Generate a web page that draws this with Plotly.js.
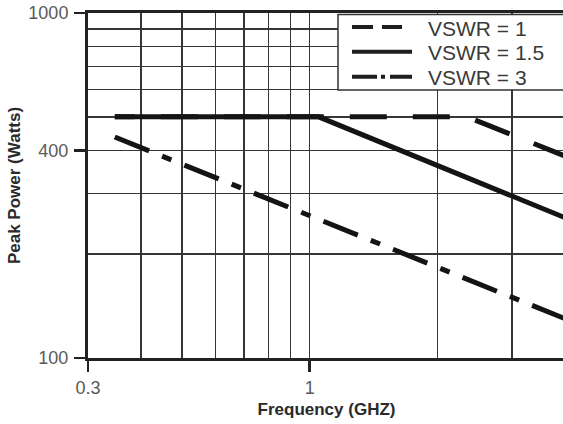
<!DOCTYPE html>
<html>
<head>
<meta charset="utf-8">
<script src="https://cdn.plot.ly/plotly-3.0.1.min.js"></script>
<style>
html, body { margin:0; padding:0; overflow:hidden; background:#fff; }
#chart { width:566px; height:424px; }
</style>
</head>
<body>
<div id="chart"></div>
<script>
// ---- data ----
var seriesNames = ['VSWR = 1', 'VSWR = 1.5', 'VSWR = 3'];
var freqVswr1  = [0.347, 2.35, 4];
var powerVswr1 = [500, 500, 385];
var freqVswr15  = [0.347, 1.05, 4];
var powerVswr15 = [500, 500, 255];
var freqVswr3  = [0.347, 4];
var powerVswr3 = [437, 130];

var xTickVals = [0.3, 1, 4];
var xTickText = ['0.3', '1', '4'];
var xMinorVals = [0.4, 0.5, 0.6, 0.7, 0.8, 0.9, 2, 3];
var yTickVals = [100, 400, 1000];
var yTickText = ['100', '400', '1000'];
var yMinorVals = [200, 300, 500, 600, 700, 800, 900];

var INK = '#141414';
var GRID = '#363636';
var FONT = 'Liberation Sans, Arial, sans-serif';

var traces = [
  { x: freqVswr1, y: powerVswr1, name: seriesNames[0], mode: 'lines',
    line: { color: INK, width: 5, dash: '20px,26px,17px,0px' } },
  { x: freqVswr15, y: powerVswr15, name: seriesNames[1], mode: 'lines',
    line: { color: INK, width: 5, dash: 'solid' } },
  { x: freqVswr3, y: powerVswr3, name: seriesNames[2], mode: 'lines',
    line: { color: INK, width: 5, dash: '37px,14px,10px,14px' } }
];

// custom legend (frame, samples, labels) anchored to top-right of plot area
var legendRows = [-14, -38.7, -63.7];
var legendDash = ['21px,9px,20px,30px', 'solid', '25px,4px,4px,5px,30px'];
var legendEnd = [-163, -153, -153];
var shapes = [{
  type: 'rect', layer: 'above',
  xref: 'paper', xsizemode: 'pixel', xanchor: 1, x0: -227, x1: 6,
  yref: 'paper', ysizemode: 'pixel', yanchor: 1, y0: -77, y1: -1.5,
  fillcolor: '#ffffff', line: { color: '#333333', width: 1.5 }
}];
var annotations = [];
for (var i = 0; i < seriesNames.length; i++) {
  shapes.push({
    type: 'line', layer: 'above',
    xref: 'paper', xsizemode: 'pixel', xanchor: 1, x0: -213, x1: legendEnd[i],
    yref: 'paper', ysizemode: 'pixel', yanchor: 1, y0: legendRows[i], y1: legendRows[i],
    line: { color: '#1e1e1e', width: 4, dash: legendDash[i] }
  });
  annotations.push({
    xref: 'paper', x: 1, xanchor: 'left', xshift: -139,
    yref: 'paper', y: 1, yanchor: 'middle', yshift: legendRows[i] - 1,
    text: seriesNames[i], showarrow: false,
    font: { family: FONT, size: 21, color: '#3a3a3a' }
  });
}

var layout = {
  width: 566, height: 424,
  margin: { l: 88, r: 1, t: 13, b: 66 },
  paper_bgcolor: '#ffffff', plot_bgcolor: '#ffffff',
  showlegend: false,
  font: { family: FONT },
  xaxis: {
    type: 'log', range: [Math.log10(0.3), Math.log10(4)],
    tickmode: 'array', tickvals: xTickVals, ticktext: xTickText,
    ticks: 'outside', ticklen: 11, tickwidth: 2.5, tickcolor: '#222',
    tickfont: { family: FONT, size: 18, color: '#5a5a5a' },
    showgrid: true, gridcolor: GRID, gridwidth: 1.5,
    minor: { tickmode: 'array', tickvals: xMinorVals, showgrid: true,
             gridcolor: GRID, gridwidth: 1.5, ticks: '' },
    showline: true, linecolor: '#222', linewidth: 3, mirror: true,
    zeroline: false,
    title: { text: 'Frequency (GHZ)', standoff: 7,
             font: { family: FONT, size: 17, color: '#2a2a2a', weight: 700 } }
  },
  yaxis: {
    type: 'log', range: [2, 3],
    tickmode: 'array', tickvals: yTickVals, ticktext: yTickText,
    ticks: 'outside', ticklen: 11, tickwidth: 2.5, tickcolor: '#222',
    tickfont: { family: FONT, size: 18, color: '#5a5a5a' },
    ticklabelstandoff: 2,
    showgrid: true, gridcolor: GRID, gridwidth: 1.5,
    minor: { tickmode: 'array', tickvals: yMinorVals, showgrid: true,
             gridcolor: GRID, gridwidth: 1.5, ticks: '' },
    showline: true, linecolor: '#222', linewidth: 3, mirror: true,
    zeroline: false,
    title: { text: 'Peak Power (Watts)', standoff: 4,
             font: { family: FONT, size: 17, color: '#2a2a2a', weight: 700 } }
  },
  shapes: shapes,
  annotations: annotations
};

Plotly.newPlot('chart', traces, layout, { displayModeBar: false, staticPlot: true });
</script>
</body>
</html>
